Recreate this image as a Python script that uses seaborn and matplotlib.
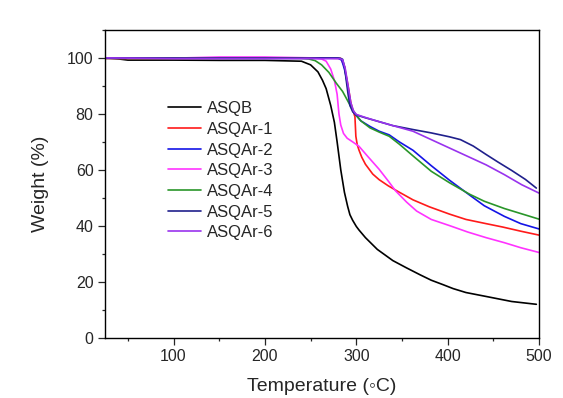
import pandas as pd
import matplotlib
matplotlib.use("Agg")
import matplotlib.pyplot as plt
import seaborn as sns
from matplotlib.ticker import MultipleLocator

# TGA curves
t_asqb = [25, 40, 50, 100, 150, 200, 240, 250, 258, 263, 267, 272, 276, 279, 283, 287, 290.5, 293, 296, 300, 303, 310, 323, 340, 355, 370, 382, 395, 406, 420, 442, 470, 497]
w_asqb = [100, 99.6, 99.2, 99.2, 99.1, 99.1, 98.8, 97.5, 95, 92, 89, 83, 77, 70, 60, 52, 47, 44, 42, 39.8, 38.5, 35.8, 31.6, 27.6, 25, 22.5, 20.6, 19, 17.6, 16.2, 14.8, 13, 12]

t_ar1 = [25, 100, 200, 270, 283, 287, 291, 294, 297, 298.5, 299.5, 301, 303, 306, 310, 318, 325, 335, 345, 362, 380, 402, 420, 442, 460, 480, 500]
w_ar1 = [99.8, 99.8, 99.9, 99.9, 99.8, 97, 90, 84, 80.5, 79, 72, 69, 67, 64.5, 62, 58.5, 56.5, 54.3, 52.4, 49.3, 46.8, 44.2, 42.3, 40.8, 39.6, 38.1, 36.7]

t_ar2 = [25, 100, 200, 280, 284, 287, 289, 292, 294, 297, 301, 305, 315, 325, 336, 347, 362, 382, 402, 424, 440, 462, 480, 500]
w_ar2 = [99.9, 99.9, 99.9, 99.9, 99.2, 96, 93, 87, 83, 80.5, 79, 77.5, 75.5, 73.8, 72.5, 70, 67, 61.5, 56.3, 51, 47.2, 43.4, 40.8, 38.9]

t_ar3 = [25, 100, 150, 200, 250, 262, 267, 272, 276, 279, 281, 283, 286, 290, 296, 303, 312, 325, 335, 343, 355, 366, 382, 402, 422, 442, 462, 480, 500]
w_ar3 = [99.8, 99.9, 100.3, 100.3, 100, 99.6, 98.8, 96, 92, 87, 80, 76, 73, 71.3, 70, 68.4, 65, 60.2, 56, 52.5, 48.5, 45.3, 42.3, 40.1, 37.8, 35.8, 34, 32.2, 30.5]

t_ar4 = [25, 100, 200, 240, 248, 255, 262, 270, 278, 285, 290, 295, 300, 305, 315, 325, 336, 347, 362, 382, 402, 424, 440, 462, 480, 500]
w_ar4 = [99.8, 99.8, 99.8, 99.8, 99.6, 99, 97.5, 94.8, 91, 88, 85, 82, 79.5, 77.5, 75, 73.5, 72, 69.2, 65, 59.5, 55.4, 51.3, 48.8, 46.2, 44.4, 42.4]

t_ar5 = [25, 100, 200, 282, 285, 287, 289, 291, 293, 296, 300, 310, 323, 340, 362, 382, 402, 414, 428, 442, 455, 470, 485, 497]
w_ar5 = [99.9, 99.9, 99.9, 99.9, 99.5, 97, 92, 87, 83, 80.8, 79.6, 78.6, 77.4, 75.8, 74.4, 73.2, 71.8, 70.8, 68.5, 65.5, 62.8, 59.8, 56.6, 53.5]

t_ar6 = [25, 100, 200, 282, 285, 288, 290, 292, 294, 297, 300, 310, 323, 340, 362, 382, 402, 422, 442, 462, 481, 500]
w_ar6 = [100, 99.7, 99.7, 99.7, 99.3, 96, 92, 88, 84, 81, 79.8, 78.7, 77.4, 75.8, 73.8, 70.8, 67.8, 64.8, 61.8, 58.3, 54.7, 51.7]

samples = ["ASQB", "ASQAr-1", "ASQAr-2", "ASQAr-3", "ASQAr-4", "ASQAr-5", "ASQAr-6"]
temps = [t_asqb, t_ar1, t_ar2, t_ar3, t_ar4, t_ar5, t_ar6]
weights = [w_asqb, w_ar1, w_ar2, w_ar3, w_ar4, w_ar5, w_ar6]
colors = ["#000000", "#ff1a1a", "#1414e6", "#ff33ff", "#2a962a", "#20208c", "#9933ee"]

frames = []
for name, t, w in zip(samples, temps, weights):
    frames.append(pd.DataFrame({"T": t, "W": w, "sample": name}))
df = pd.concat(frames, ignore_index=True)

sns.set_style("ticks")
plt.rcParams["font.family"] = ["Liberation Sans", "DejaVu Sans"]

fig = plt.figure(figsize=(5.63, 3.98), dpi=100)
ax = fig.add_axes([0.1865, 0.151, 0.771, 0.774])

sns.lineplot(data=df, x="T", y="W", hue="sample", palette=dict(zip(samples, colors)),
             hue_order=samples, estimator=None, sort=False, lw=1.2, ax=ax)

ax.set_xlim(25, 500)
ax.set_ylim(0, 110)
ax.xaxis.set_major_locator(MultipleLocator(100))
ax.xaxis.set_minor_locator(MultipleLocator(50))
ax.yaxis.set_major_locator(MultipleLocator(20))
ax.yaxis.set_minor_locator(MultipleLocator(10))
ax.tick_params(which="major", direction="out", length=4.7, width=0.9, labelsize=11.5)
ax.tick_params(which="minor", direction="out", length=2.4, width=0.9)
for s in ax.spines.values():
    s.set_linewidth(1.0)
    s.set_color("black")

ax.set_xlabel("Temperature (\u25e6C)", fontsize=14, labelpad=10)
ax.set_ylabel("Weight (%)", fontsize=14, labelpad=13)

ax.legend(loc="upper left", bbox_to_anchor=(0.13, 0.79), frameon=False, fontsize=12,
          handlelength=2.0, handletextpad=0.35, labelspacing=0.34, borderaxespad=0)

fig.savefig("out.png", dpi=100)
